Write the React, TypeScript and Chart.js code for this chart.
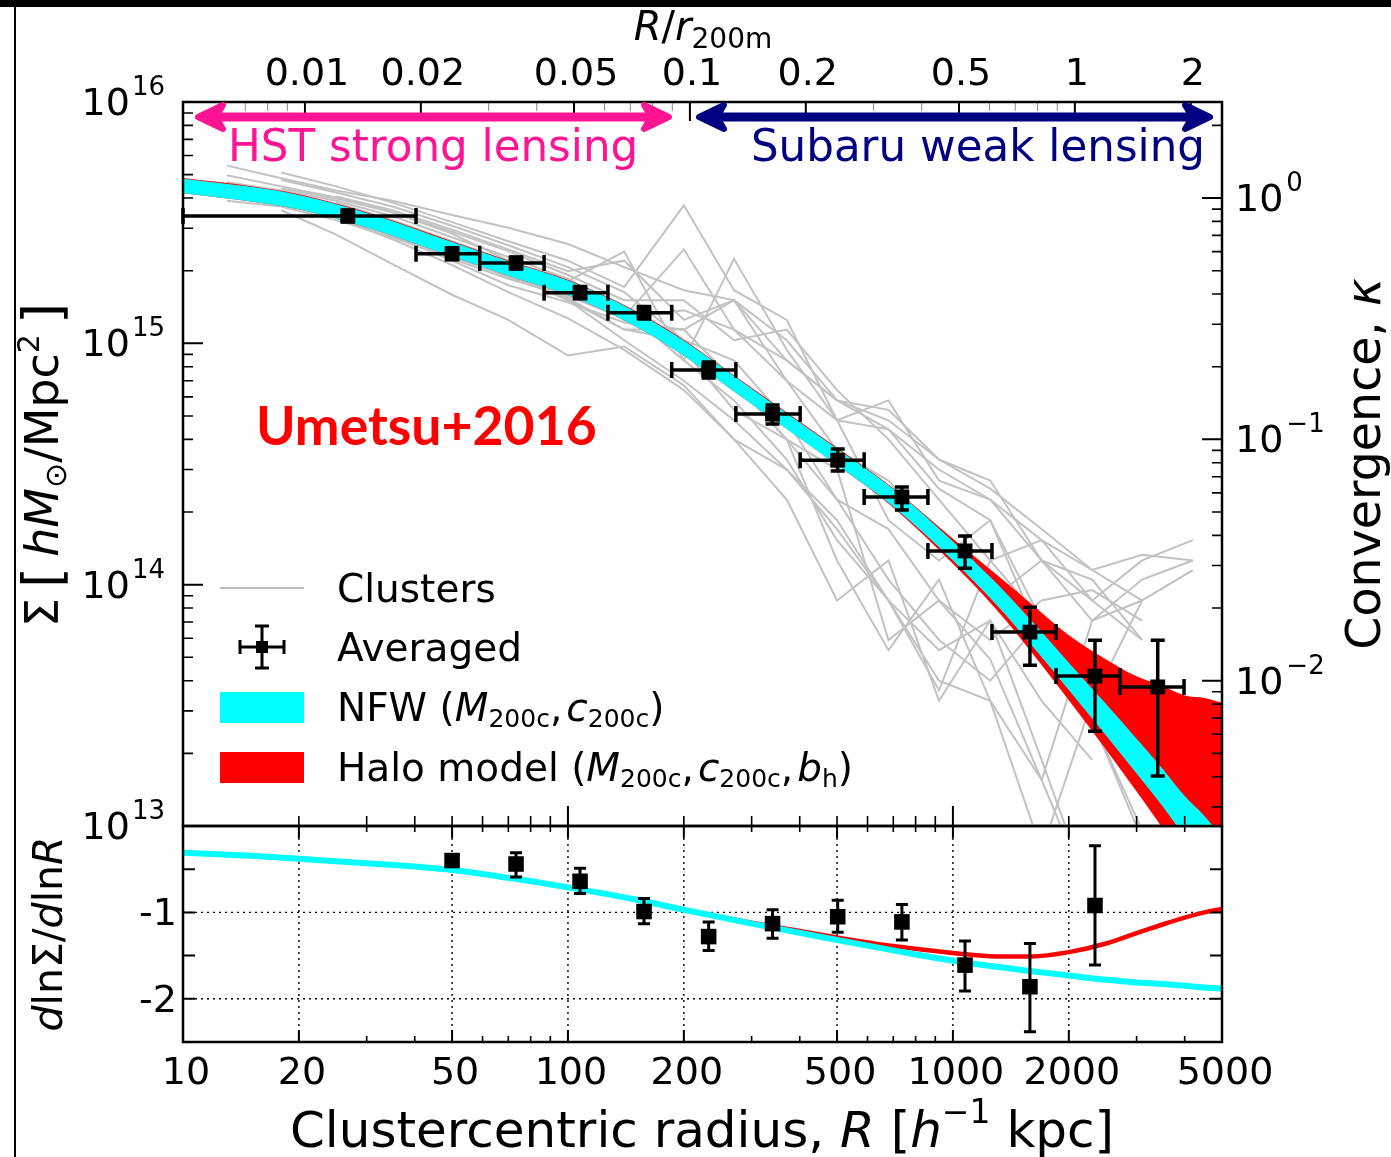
import React, { useEffect, useRef } from "react";
import { Chart, registerables } from "chart.js";

Chart.register(...registerables);

const PAGE_W = 1391;
const PAGE_H = 1157;
const AREA_LEFT = 183;
const AREA_RIGHT = 1222;
const MAIN_TOP = 102;
const MAIN_BOTTOM = 826;
const SLOPE_BOTTOM = 1042;

// h^-1 kpc, converts R to R/r200m on the upper axis
const R200M = 2074;
// h M_sun / Mpc^2, converts Sigma to kappa on the right axis
const SIGMA_CRIT = 4.0e15;
// cluster profiles are listed in units of 1e14 h M_sun / Mpc^2
const CLUSTER_UNIT = 1e14;

// ---- stacked (averaged) surface mass density profile ----
const AVG_R = [26.8, 50, 73.3, 107.5, 157.6, 232, 340, 502, 737, 1075, 1585, 2339, 3404];
const AVG_R_LO = [10, 40.3, 59.0, 86.7, 127, 186, 273, 401, 588, 861, 1263, 1853, 2717];
const AVG_R_HI = [40.3, 59.0, 86.7, 127, 186, 273, 401, 588, 861, 1263, 1853, 2717, 3984];
const AVG_SIGMA = [3.37e15, 2.35e15, 2.15e15, 1.62e15, 1.34e15, 7.75e14, 5.09e14, 3.28e14, 2.31e14, 1.38e14, 6.36e13, 4.18e13, 3.77e13];
const AVG_SIGMA_LO = [3.18e15, 2.22e15, 2.03e15, 1.53e15, 1.26e15, 7.18e14, 4.63e14, 2.96e14, 2.04e14, 1.17e14, 4.64e13, 2.47e13, 1.61e13];
const AVG_SIGMA_HI = [3.57e15, 2.49e15, 2.28e15, 1.72e15, 1.42e15, 8.36e14, 5.55e14, 3.65e14, 2.54e14, 1.59e14, 8.07e13, 5.89e13, 5.89e13];

// ---- model bands (68% ranges) ----
const MODEL_R = [10, 15, 20, 30, 50, 70, 100, 150, 200, 300, 500, 700, 1000, 1300, 1600, 2000, 2500, 3000, 3500, 4000, 4500, 5000];
const NFW_LO = [4.19e15, 3.87e15, 3.59e15, 3.02e15, 2.29e15, 1.905e15, 1.585e15, 1.175e15, 8.89e14, 5.6e14, 3.13e14, 2.11e14, 1.26e14, 8.22e13, 5.62e13, 3.66e13, 2.37e13, 1.65e13, 1.21e13, 9.04e12, 7.24e12, 5.82e12];
const NFW_HI = [4.81e15, 4.45e15, 4.12e15, 3.47e15, 2.63e15, 2.19e15, 1.82e15, 1.35e15, 1.026e15, 6.49e14, 3.66e14, 2.49e14, 1.51e14, 1.01e14, 7.08e13, 4.75e13, 3.2e13, 2.3e13, 1.73e13, 1.33e13, 1.1e13, 9.02e12];
const HALO_LO = [4.19e15, 3.87e15, 3.59e15, 3.02e15, 2.29e15, 1.905e15, 1.585e15, 1.175e15, 8.89e14, 5.6e14, 3.13e14, 2.09e14, 1.22e14, 7.85e13, 5.25e13, 3.32e13, 2.07e13, 1.39e13, 9.82e12, 7.1e12, 5.5e12, 4.27e12];
const HALO_HI = [4.84e15, 4.48e15, 4.15e15, 3.49e15, 2.65e15, 2.205e15, 1.833e15, 1.36e15, 1.033e15, 6.54e14, 3.69e14, 2.51e14, 1.55e14, 1.1e14, 8.32e13, 6.17e13, 4.9e13, 4.17e13, 3.8e13, 3.47e13, 3.39e13, 3.24e13];

// ---- individual cluster profiles ----
const CLUSTER_R = [13, 18, 25, 35, 50, 70, 100, 140, 200, 270, 370, 500, 680, 920, 1250, 1700, 2300, 3100, 4200];
const CLUSTER_SIGMA14 = [
  [54.5, 48.3, 43, 39, 34, 30.1, 25.8, 20.7, 16.6, 15.1, 8.5, 5.8, 4.4, 3.0, 2.25, 1.26, 0.86, 0.59, null],
  [null, 35.6, 28.2, 21.3, 15.9, 12.5, 8.9, 9.7, 6.7, 4.0, 3.0, 1.85, 0.86, 0.535, 0.71, 0.33, 0.188, null, null],
  [49.7, 44.7, 40.2, 34.9, 29, 24.1, 19.2, 15.1, 15.1, 10.3, 11.4, 6.4, 4.0, 2.25, 1.26, 1.53, 0.86, 1.26, 1.53],
  [null, 51, 44.7, 38.3, 31.8, 26.5, 22, 17.1, 37.3, 16.6, 12.5, 4.8, 1.85, 1.26, 1.85, 0.71, 0.33, 0.155, null],
  [42.2, 39, 34.3, 28, 22, 17.4, 14.8, 12.2, 11.4, 15.1, 7.0, 3.6, 2.7, 1.53, 0.86, 1.26, 1.05, 0.59, null],
  [null, null, 38.3, 32.4, 26.5, 21.8, 18.1, 24, 8.5, 22.4, 9.4, 4.8, 5.8, 2.7, 2.25, 1.53, 1.15, 1.33, 1.26],
  [44.7, 41.8, 36.9, 31.8, 25.5, 19.9, 15.1, 10.3, 7.0, 4.8, 3.0, 1.7, 0.86, 0.4, 0.33, 0.155, 0.049, null, null],
  [null, 40.6, 34.9, 29, 23.2, 18.8, 15.4, 11.4, 11.4, 7.0, 4.0, 3.0, 0.59, 0.86, 0.49, 0.155, 0.71, 0.86, null],
  [39, 36.9, 32.4, 27.5, 22.4, 18.5, 15.7, 12.9, 24.5, 11.4, 7.0, 4.8, 4.4, 2.5, 1.85, 0.59, 0.275, 0.088, null],
  [null, null, 40.6, 35.6, 29.6, 24.5, 19.9, 22, 12.5, 15.1, 10.3, 5.8, 5.3, 3.3, 2.7, 1.26, 0.71, 1.05, 1.26],
  [46.5, 43, 39, 33.7, 27.5, 22.8, 18.5, 13.7, 8.5, 5.8, 3.3, 1.53, 0.86, 0.365, 1.26, 0.71, 0.275, 0.096, 0.049],
  [null, 43.8, 39.8, 34.9, 28.5, 22, 17.1, 12.5, 9.4, 5.3, 4.0, 1.26, 0.535, 1.05, 0.33, 0.079, 0.33, 0.86, null],
  [null, null, 33.1, 27, 21.1, 16.3, 12.7, 9.4, 6.4, 4.0, 2.25, 0.86, 1.26, 0.33, 0.71, 0.188, 0.049, null, null],
  [40.6, 37.6, 33.1, 28, 22.8, 19.2, 15.7, 12.7, 13.7, 11.4, 8.5, 5.8, 4.8, 3.3, 2.5, 1.7, 1.15, 0.86, 1.15],
  [null, 47.5, 42.2, 36.9, 30.7, 25.5, 20.7, 16.3, 10.3, 8.5, 4.8, 2.25, 1.05, 0.59, 0.4, 0.71, 0.33, null, null],
  [null, null, 36.2, 30.7, 24.1, 19.2, 15.1, 11.4, 10.3, 7.0, 4.0, 2.25, 1.7, 0.86, 0.59, 0.86, 0.95, 0.71, null],
];

// ---- logarithmic slope panel ----
const SLOPE_R = [50, 73.3, 107.5, 157.6, 232, 340, 502, 737, 1075, 1585, 2339];
const SLOPE = [-0.4, -0.44, -0.64, -0.99, -1.28, -1.13, -1.05, -1.11, -1.61, -1.86, -0.92];
const SLOPE_LO = [-0.46, -0.59, -0.78, -1.13, -1.44, -1.3, -1.23, -1.32, -1.91, -2.38, -1.61];
const SLOPE_HI = [-0.34, -0.31, -0.49, -0.84, -1.11, -0.97, -0.86, -0.91, -1.33, -1.36, -0.23];
const NFW_SLOPE = [-0.31, -0.345, -0.38, -0.43, -0.51, -0.6, -0.71, -0.85, -0.97, -1.13, -1.32, -1.44, -1.56, -1.63, -1.68, -1.73, -1.78, -1.81, -1.83, -1.85, -1.87, -1.88];
const HALO_SLOPE = [-0.31, -0.345, -0.38, -0.43, -0.51, -0.6, -0.71, -0.85, -0.97, -1.12, -1.29, -1.39, -1.47, -1.51, -1.51, -1.46, -1.36, -1.24, -1.14, -1.06, -1.0, -0.96];

// ---- axis ticks ----
const SIGMA_DECADES = [1e13, 1e14, 1e15, 1e16];
const SIGMA_EXP = ["13", "14", "15", "16"];
const KAPPA_DECADES = [0.01, 0.1, 1];
const KAPPA_EXP = ["\u22122", "\u22121", "0"];
const RR_TICKS = [0.01, 0.02, 0.05, 0.1, 0.2, 0.5, 1, 2];
const RR_LABELS = ["0.01", "0.02", "0.05", "0.1", "0.2", "0.5", "1", "2"];
const RR_MINOR = [0.006, 0.007, 0.008, 0.009, 0.03, 0.04, 0.06, 0.07, 0.08, 0.09, 0.3, 0.4, 0.6, 0.7, 0.8, 0.9];
const R_TICKS = [10, 20, 50, 100, 200, 500, 1000, 2000, 5000];
const R_LABELS = ["10", "20", "50", "100", "200", "500", "1000", "2000", "5000"];
const R_DECADES = [100, 1000];
const SLOPE_TICKS = [-0.5, -1, -1.5, -2];
const SLOPE_LABEL_VALUES = [-1, -2];
const SLOPE_LABELS = ["-1", "-2"];
const SLOPE_GRID_R = [20, 50, 100, 200, 500, 1000, 2000];
const SLOPE_GRID_Y = [-1, -2];

const SANS = '"DejaVu Sans", sans-serif';
const font = (px: number, style = "") => `${style} ${px}px ${SANS}`.trim();

type Run = { t: string; f: string; dy?: number; dx?: number };

function runsWidth(ctx: CanvasRenderingContext2D, runs: Run[]) {
  let w = 0;
  for (const r of runs) {
    ctx.font = r.f;
    w += ctx.measureText(r.t).width + (r.dx || 0);
  }
  return w;
}

function drawRuns(ctx: CanvasRenderingContext2D, runs: Run[], x: number, y: number, align = "left") {
  const w = runsWidth(ctx, runs);
  let cx = align === "left" ? x : align === "center" ? x - w / 2 : x - w;
  ctx.textAlign = "left";
  ctx.textBaseline = "alphabetic";
  for (const r of runs) {
    ctx.font = r.f;
    cx += r.dx || 0;
    ctx.fillText(r.t, cx, y + (r.dy || 0));
    cx += ctx.measureText(r.t).width;
  }
}

function logMinors(lo: number, hi: number) {
  const out: number[] = [];
  for (let e = Math.floor(Math.log10(lo)); e <= Math.ceil(Math.log10(hi)); e++) {
    for (let m = 2; m <= 9; m++) {
      const v = m * Math.pow(10, e);
      if (v > lo * 1.0001 && v < hi * 0.9999) out.push(v);
    }
  }
  return out;
}

function ticksAlongX(ctx: CanvasRenderingContext2D, px: (v: number) => number, values: number[], yEdge: number, len: number, lw: number, color = "#000") {
  ctx.strokeStyle = color;
  ctx.lineWidth = lw;
  ctx.beginPath();
  for (const v of values) {
    const x = px(v);
    ctx.moveTo(x, yEdge);
    ctx.lineTo(x, yEdge + len);
  }
  ctx.stroke();
}

function ticksAlongY(ctx: CanvasRenderingContext2D, py: (v: number) => number, values: number[], xEdge: number, len: number, lw: number, color = "#000") {
  ctx.strokeStyle = color;
  ctx.lineWidth = lw;
  ctx.beginPath();
  for (const v of values) {
    const y = py(v);
    ctx.moveTo(xEdge, y);
    ctx.lineTo(xEdge + len, y);
  }
  ctx.stroke();
}

function arrow(ctx: CanvasRenderingContext2D, x0: number, x1: number, y: number, color: string) {
  ctx.save();
  ctx.strokeStyle = color;
  ctx.fillStyle = color;
  ctx.lineWidth = 9;
  ctx.lineCap = "butt";
  ctx.beginPath();
  ctx.moveTo(x0 + 14, y);
  ctx.lineTo(x1 - 14, y);
  ctx.stroke();
  ctx.lineJoin = "round";
  ctx.lineWidth = 6;
  for (const [tip, dir] of [[x0, 1], [x1, -1]]) {
    ctx.beginPath();
    ctx.moveTo(tip + 3 * dir, y);
    ctx.lineTo(tip + 28 * dir, y - 12);
    ctx.lineTo(tip + 21 * dir, y);
    ctx.lineTo(tip + 28 * dir, y + 12);
    ctx.closePath();
    ctx.fill();
    ctx.stroke();
  }
  ctx.restore();
}

const pts = (xs: number[], ys: (number | null)[], unit = 1) =>
  xs.map((x, i) => ({ x, y: ys[i] == null ? null : (ys[i] as number) * unit }));

const mainDecor = {
  id: "mainDecor",
  afterDatasetsDraw(chart: any) {
    const { ctx, scales } = chart;
    const xs = scales.x;
    const ys = scales.y;
    ctx.save();
    ctx.strokeStyle = "#000";
    ctx.lineWidth = 3.5;
    ctx.beginPath();
    for (let i = 0; i < AVG_R.length; i++) {
      const px = xs.getPixelForValue(AVG_R[i]);
      const py = ys.getPixelForValue(AVG_SIGMA[i]);
      const xl = xs.getPixelForValue(AVG_R_LO[i]);
      const xh = xs.getPixelForValue(AVG_R_HI[i]);
      const yl = ys.getPixelForValue(AVG_SIGMA_LO[i]);
      const yh = ys.getPixelForValue(AVG_SIGMA_HI[i]);
      ctx.moveTo(xl, py); ctx.lineTo(xh, py);
      ctx.moveTo(xl, py - 8); ctx.lineTo(xl, py + 8);
      ctx.moveTo(xh, py - 8); ctx.lineTo(xh, py + 8);
      ctx.moveTo(px, yl); ctx.lineTo(px, yh);
      ctx.moveTo(px - 7, yl); ctx.lineTo(px + 7, yl);
      ctx.moveTo(px - 7, yh); ctx.lineTo(px + 7, yh);
    }
    ctx.stroke();
    ctx.restore();
  },
  afterDraw(chart: any) {
    const { ctx, scales, chartArea: a } = chart;
    const xs = scales.x;
    const ys = scales.y;
    const px = (v: number) => xs.getPixelForValue(v);
    const py = (v: number) => ys.getPixelForValue(v);
    const pRR = (v: number) => xs.getPixelForValue(v * R200M);
    const pK = (v: number) => ys.getPixelForValue(v * SIGMA_CRIT);
    ctx.save();

    // ticks (all pointing into the panel)
    ticksAlongY(ctx, py, SIGMA_DECADES, a.left, 20, 2);
    ticksAlongY(ctx, py, logMinors(1e13, 1e16), a.left, 10, 1.6);
    ticksAlongY(ctx, pK, KAPPA_DECADES, a.right, -20, 2);
    ticksAlongY(ctx, pK, logMinors(1e13 / SIGMA_CRIT, 1e16 / SIGMA_CRIT), a.right, -10, 1.6);
    ticksAlongX(ctx, px, R_DECADES, a.bottom, -20, 2);
    ticksAlongX(ctx, px, logMinors(10, 5000), a.bottom, -10, 1.6);
    ticksAlongX(ctx, pRR, RR_TICKS, a.top, 19, 2);
    ticksAlongX(ctx, pRR, RR_MINOR, a.top, 9, 1, "#8a8a8a");

    // frame
    ctx.strokeStyle = "#000";
    ctx.lineWidth = 2.5;
    ctx.strokeRect(a.left, a.top, a.right - a.left, a.bottom - a.top);

    ctx.fillStyle = "#000";
    // left tick labels
    SIGMA_DECADES.forEach((v, i) => {
      const y = py(v);
      drawRuns(ctx, [{ t: "10", f: font(38) }, { t: SIGMA_EXP[i], f: font(26), dy: -20, dx: 2 }], 165, y + 13, "right");
    });
    // right tick labels
    KAPPA_DECADES.forEach((v, i) => {
      const y = pK(v);
      drawRuns(ctx, [{ t: "10", f: font(38) }, { t: KAPPA_EXP[i], f: font(26), dy: -20, dx: 3 }], 1235, y + 13, "left");
    });
    // upper axis labels
    RR_TICKS.forEach((v, i) => {
      ctx.font = font(38);
      ctx.textAlign = "center";
      ctx.textBaseline = "alphabetic";
      ctx.fillText(RR_LABELS[i], pRR(v) + 2, 85);
    });
    drawRuns(ctx, [
      { t: "R", f: font(40, "italic") },
      { t: "/", f: font(40) },
      { t: "r", f: font(40, "italic") },
      { t: "200m", f: font(28), dy: 8 },
    ], 703, 40, "center");

    // left axis title
    ctx.save();
    ctx.translate(58, 465);
    ctx.rotate(-Math.PI / 2);
    drawRuns(ctx, [
      { t: "\u03A3", f: font(46) },
      { t: "[", f: font(54), dx: 10, dy: 3 },
      { t: "h", f: font(46, "italic"), dx: 10 },
      { t: "M", f: font(46, "italic") },
      { t: "\u2299", f: font(30), dy: 8 },
      { t: "/Mpc", f: font(46) },
      { t: "2", f: font(30), dy: -19 },
      { t: "]", f: font(54), dx: 10, dy: 3 },
    ], 0, 0, "center");
    ctx.restore();

    // right axis title
    ctx.save();
    ctx.translate(1380, 464);
    ctx.rotate(-Math.PI / 2);
    drawRuns(ctx, [
      { t: "Convergence, ", f: font(47.5) },
      { t: "\u03BA", f: font(47.5, "italic") },
    ], 0, 0, "center");
    ctx.restore();

    // lensing regimes
    arrow(ctx, 195, 672, 117, "#ff1493");
    arrow(ctx, 696, 1213, 117, "#000080");
    ctx.fillStyle = "#ff1493";
    ctx.font = font(43.6);
    ctx.textAlign = "left";
    ctx.fillText("HST strong lensing", 228, 161);
    ctx.fillStyle = "#000080";
    ctx.textAlign = "right";
    ctx.fillText("Subaru weak lensing", 1205, 161);

    // reference tag
    ctx.fillStyle = "#ff0000";
    ctx.font = 'bold 53.5px Lato, "DejaVu Sans", sans-serif';
    ctx.textAlign = "left";
    ctx.fillText("Umetsu+2016", 256, 445);

    // legend
    ctx.strokeStyle = "#bdbdbd";
    ctx.lineWidth = 2;
    ctx.beginPath();
    ctx.moveTo(220, 588);
    ctx.lineTo(304, 588);
    ctx.stroke();
    ctx.fillStyle = "#000";
    ctx.fillRect(256, 641, 12, 12);
    ctx.strokeStyle = "#000";
    ctx.lineWidth = 3;
    ctx.beginPath();
    ctx.moveTo(240, 647); ctx.lineTo(284, 647);
    ctx.moveTo(240, 640); ctx.lineTo(240, 654);
    ctx.moveTo(284, 640); ctx.lineTo(284, 654);
    ctx.moveTo(262, 626); ctx.lineTo(262, 668);
    ctx.moveTo(255, 626); ctx.lineTo(269, 626);
    ctx.moveTo(255, 668); ctx.lineTo(269, 668);
    ctx.stroke();
    ctx.fillStyle = "#00ffff";
    ctx.fillRect(220, 692, 84, 31);
    ctx.fillStyle = "#ff0000";
    ctx.fillRect(220, 752, 84, 31);

    ctx.fillStyle = "#000";
    const L = 39;
    const S = 25;
    drawRuns(ctx, [{ t: "Clusters", f: font(L) }], 337, 602);
    drawRuns(ctx, [{ t: "Averaged", f: font(L) }], 337, 661);
    drawRuns(ctx, [
      { t: "NFW (", f: font(L) },
      { t: "M", f: font(L, "italic") },
      { t: "200c", f: font(S), dy: 6 },
      { t: ",", f: font(L) },
      { t: "c", f: font(L, "italic"), dx: 4 },
      { t: "200c", f: font(S), dy: 6 },
      { t: ")", f: font(L) },
    ], 337, 721);
    drawRuns(ctx, [
      { t: "Halo model (", f: font(L) },
      { t: "M", f: font(L, "italic") },
      { t: "200c", f: font(S), dy: 6 },
      { t: ",", f: font(L) },
      { t: "c", f: font(L, "italic"), dx: 4 },
      { t: "200c", f: font(S), dy: 6 },
      { t: ",", f: font(L) },
      { t: "b", f: font(L, "italic"), dx: 4 },
      { t: "h", f: font(S), dy: 6 },
      { t: ")", f: font(L) },
    ], 337, 781);

    ctx.restore();
  },
};

const slopeDecor = {
  id: "slopeDecor",
  beforeDatasetsDraw(chart: any) {
    const { ctx, scales, chartArea: a } = chart;
    const xs = scales.x;
    const ys = scales.y;
    ctx.save();
    ctx.strokeStyle = "#000";
    ctx.lineWidth = 1.4;
    ctx.setLineDash([2, 4]);
    ctx.beginPath();
    for (const v of SLOPE_GRID_R) {
      const x = xs.getPixelForValue(v);
      ctx.moveTo(x, a.top);
      ctx.lineTo(x, a.bottom);
    }
    for (const v of SLOPE_GRID_Y) {
      const y = ys.getPixelForValue(v);
      ctx.moveTo(a.left, y);
      ctx.lineTo(a.right, y);
    }
    ctx.stroke();
    ctx.restore();
  },
  afterDatasetsDraw(chart: any) {
    const { ctx, scales } = chart;
    const xs = scales.x;
    const ys = scales.y;
    ctx.save();
    ctx.strokeStyle = "#000";
    ctx.lineWidth = 3;
    ctx.beginPath();
    for (let i = 0; i < SLOPE_R.length; i++) {
      const x = xs.getPixelForValue(SLOPE_R[i]);
      const yl = ys.getPixelForValue(SLOPE_LO[i]);
      const yh = ys.getPixelForValue(SLOPE_HI[i]);
      ctx.moveTo(x, yl); ctx.lineTo(x, yh);
      ctx.moveTo(x - 6, yl); ctx.lineTo(x + 6, yl);
      ctx.moveTo(x - 6, yh); ctx.lineTo(x + 6, yh);
    }
    ctx.stroke();
    ctx.restore();
  },
  afterDraw(chart: any) {
    const { ctx, scales, chartArea: a } = chart;
    const xs = scales.x;
    const ys = scales.y;
    const px = (v: number) => xs.getPixelForValue(v);
    const py = (v: number) => ys.getPixelForValue(v);
    ctx.save();
    const majors = [20, 50, 100, 200, 500, 1000, 2000];
    const minors = logMinors(10, 5000).filter((v) => majors.indexOf(v) < 0);
    ticksAlongX(ctx, px, majors, a.top, 12, 2);
    ticksAlongX(ctx, px, minors, a.top, 6, 1.6);
    ticksAlongX(ctx, px, majors, a.bottom, -12, 2);
    ticksAlongX(ctx, px, minors, a.bottom, -6, 1.6);
    ticksAlongY(ctx, py, SLOPE_TICKS, a.left, 12, 2);
    ticksAlongY(ctx, py, SLOPE_TICKS, a.right, -12, 2);

    ctx.strokeStyle = "#000";
    ctx.lineWidth = 2.5;
    ctx.strokeRect(a.left, a.top, a.right - a.left, a.bottom - a.top);

    ctx.fillStyle = "#000";
    ctx.font = font(38);
    ctx.textAlign = "center";
    ctx.textBaseline = "alphabetic";
    R_TICKS.forEach((v, i) => ctx.fillText(R_LABELS[i], px(v) + 3, 1084));
    ctx.textAlign = "right";
    SLOPE_LABEL_VALUES.forEach((v, i) => ctx.fillText(SLOPE_LABELS[i], 177, py(v) + 13));

    drawRuns(ctx, [
      { t: "Clustercentric radius, ", f: font(50) },
      { t: "R", f: font(50, "italic") },
      { t: " [", f: font(50) },
      { t: "h", f: font(50, "italic") },
      { t: "\u22121", f: font(33), dy: -24 },
      { t: " kpc]", f: font(50) },
    ], 702, 1147, "center");

    ctx.save();
    ctx.translate(62, 934);
    ctx.rotate(-Math.PI / 2);
    drawRuns(ctx, [
      { t: "d", f: font(41, "italic") },
      { t: "ln\u03A3/", f: font(41) },
      { t: "d", f: font(41, "italic") },
      { t: "ln", f: font(41) },
      { t: "R", f: font(41, "italic") },
    ], 0, 0, "center");
    ctx.restore();
    ctx.restore();
  },
};

function mainConfig(): any {
  const hidden = { display: false };
  const greyLines = CLUSTER_SIGMA14.map((profile) => ({
    data: pts(CLUSTER_R, profile, CLUSTER_UNIT),
    borderColor: "#c2c2c2",
    borderWidth: 2,
    pointRadius: 0,
    fill: false,
    clip: 0,
  }));
  const band = (data: any[], fill: any, color: string) => ({
    data,
    borderColor: "rgba(0,0,0,0)",
    borderWidth: 0,
    backgroundColor: color,
    pointRadius: 0,
    fill,
    cubicInterpolationMode: "monotone",
    clip: 0,
  });
  return {
    type: "line",
    data: {
      datasets: [
        {
          data: pts(AVG_R, AVG_SIGMA),
          showLine: false,
          pointStyle: "rect",
          pointRadius: 10.5,
          pointBackgroundColor: "#000",
          pointBorderWidth: 0,
          borderColor: "rgba(0,0,0,0)",
        },
        band(pts(MODEL_R, NFW_HI), "+1", "#00ffff"),
        band(pts(MODEL_R, NFW_LO), false, "#00ffff"),
        band(pts(MODEL_R, HALO_HI), "+1", "#ff0000"),
        band(pts(MODEL_R, HALO_LO), false, "#ff0000"),
        ...greyLines,
      ],
    },
    options: {
      responsive: false,
      animation: false,
      devicePixelRatio: 1,
      events: [],
      layout: { padding: { left: AREA_LEFT, top: MAIN_TOP, right: PAGE_W - AREA_RIGHT, bottom: PAGE_H - MAIN_BOTTOM } },
      plugins: { legend: { display: false }, tooltip: { enabled: false } },
      scales: {
        x: { type: "logarithmic", min: 10, max: 5000, ...hidden },
        y: { type: "logarithmic", min: 1e13, max: 1e16, ...hidden },
      },
    },
    plugins: [mainDecor],
  };
}

function slopeConfig(): any {
  return {
    type: "line",
    data: {
      datasets: [
        {
          data: pts(SLOPE_R, SLOPE),
          showLine: false,
          pointStyle: "rect",
          pointRadius: 11,
          pointBackgroundColor: "#000",
          pointBorderWidth: 0,
          borderColor: "rgba(0,0,0,0)",
        },
        {
          data: pts(MODEL_R, NFW_SLOPE),
          borderColor: "#00ffff",
          borderWidth: 6,
          pointRadius: 0,
          fill: false,
          cubicInterpolationMode: "monotone",
          clip: 0,
        },
        {
          data: pts(MODEL_R, HALO_SLOPE),
          borderColor: "#ff0000",
          borderWidth: 4.5,
          pointRadius: 0,
          fill: false,
          cubicInterpolationMode: "monotone",
          clip: 0,
        },
      ],
    },
    options: {
      responsive: false,
      animation: false,
      devicePixelRatio: 1,
      events: [],
      layout: { padding: { left: AREA_LEFT, top: MAIN_BOTTOM, right: PAGE_W - AREA_RIGHT, bottom: PAGE_H - SLOPE_BOTTOM } },
      plugins: { legend: { display: false }, tooltip: { enabled: false } },
      scales: {
        x: { type: "logarithmic", min: 10, max: 5000, display: false },
        y: { type: "linear", min: -2.5, max: 0, display: false },
      },
    },
    plugins: [slopeDecor],
  };
}

export default function App() {
  const mainRef = useRef<HTMLCanvasElement>(null);
  const slopeRef = useRef<HTMLCanvasElement>(null);

  useEffect(() => {
    const slope = new Chart(slopeRef.current as HTMLCanvasElement, slopeConfig());
    const main = new Chart(mainRef.current as HTMLCanvasElement, mainConfig());
    return () => {
      main.destroy();
      slope.destroy();
    };
  }, []);

  const layer: React.CSSProperties = { position: "absolute", left: 0, top: 0 };
  return (
    <div style={{ position: "absolute", left: 0, top: 0, width: PAGE_W, height: PAGE_H, background: "#fff", overflow: "hidden" }}>
      <div style={{ position: "absolute", left: 0, top: 0, width: PAGE_W, height: 7, background: "#000" }} />
      <div style={{ position: "absolute", left: 14, top: 0, width: 2, height: PAGE_H, background: "#000" }} />
      <canvas ref={slopeRef} width={PAGE_W} height={PAGE_H} style={layer} />
      <canvas ref={mainRef} width={PAGE_W} height={PAGE_H} style={layer} />
    </div>
  );
}
